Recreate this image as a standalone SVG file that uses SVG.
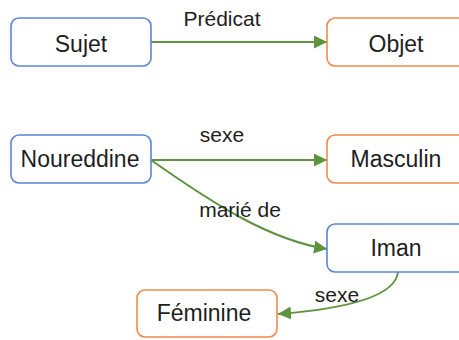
<svg xmlns="http://www.w3.org/2000/svg" width="459" height="340" viewBox="0 0 459 340">
  <style>
    .node rect { fill: #ffffff; stroke-width: 1.6; }
    .subject rect { stroke: #5b86d8; }
    .object rect { stroke: #f08a4b; }
    .node text { font-family: "Liberation Sans", Arial, sans-serif; font-size: 23px; fill: #1e1e1e; text-anchor: middle; }
    .edge { fill: none; stroke: #5e9440; stroke-width: 2; marker-end: url(#arrow); }
    .label { font-family: "Liberation Sans", Arial, sans-serif; font-size: 21px; fill: #1e1e1e; text-anchor: middle; }
  </style>
  <defs>
    <marker id="arrow" markerUnits="userSpaceOnUse" markerWidth="14" markerHeight="14" refX="13" refY="6.5" orient="auto">
      <path d="M0,0 L13,6.5 L0,13 Z" fill="#5e9440"/>
    </marker>
  </defs>
  <rect width="459" height="340" fill="#ffffff"/>

  <!-- connectors -->
  <g id="connectors">
    <path class="edge" d="M151,42 L327,42"/>
    <path class="edge" d="M151,160 L327,160"/>
    <path class="edge" d="M151,160 C215,205 270,240 327,249"/>
    <path class="edge" d="M398,272 C395,300 330,310 278,314"/>
    <text class="label" x="222" y="26">Prédicat</text>
    <text class="label" x="222" y="142">sexe</text>
    <text class="label" x="240" y="217">marié de</text>
    <text class="label" x="337" y="302">sexe</text>
  </g>

  <!-- nodes -->
  <g id="sujet" class="node subject">
    <rect x="11" y="18" width="140" height="48" rx="8"/>
    <text x="81" y="52">Sujet</text>
  </g>
  <g id="objet" class="node object">
    <rect x="327" y="18" width="140" height="48" rx="8"/>
    <text x="396" y="52">Objet</text>
  </g>
  <g id="noureddine" class="node subject">
    <rect x="11" y="135" width="140" height="48" rx="8"/>
    <text x="80" y="167">Noureddine</text>
  </g>
  <g id="masculin" class="node object">
    <rect x="327" y="135" width="140" height="48" rx="8"/>
    <text x="396" y="167">Masculin</text>
  </g>
  <g id="iman" class="node subject">
    <rect x="327" y="224" width="140" height="48" rx="8"/>
    <text x="396" y="256">Iman</text>
  </g>
  <g id="feminine" class="node object">
    <rect x="137" y="290" width="140" height="47" rx="8"/>
    <text x="204" y="321">Féminine</text>
  </g>
</svg>
